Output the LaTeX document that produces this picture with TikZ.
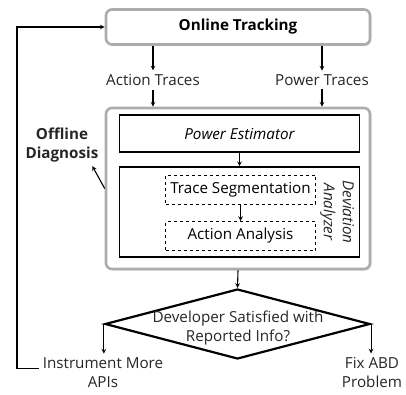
\documentclass[tikz,border=0pt]{standalone}
\usepackage{fontspec}
\setmainfont{Open Sans}
\usetikzlibrary{shapes.geometric,shadows}
\newcommand{\diagsize}{\fontsize{15.2}{19}\selectfont}
\begin{document}
\begin{tikzpicture}[>=stealth, x=1pt, y=-1pt, font=\diagsize, line width=1.1pt]
  \tikzset{panel/.style={draw=gray!65, line width=2.6pt, rounded corners=6pt, fill=white, drop shadow={opacity=0.25, shadow xshift=1.5pt, shadow yshift=-1.5pt}},
    stage/.style={draw, line width=1.6pt, minimum width=240pt},
    part/.style={draw, dashed, line width=1pt, minimum width=150pt, minimum height=29pt, inner sep=1pt},
    txt/.style={align=center, text=black!85}}
  \useasboundingbox (0,0) rectangle (406,394);
  \node[panel, minimum width=264pt, minimum height=35pt, font=\diagsize\bfseries] (online) at (238,27) {Online Tracking};
  \node[txt] (act) at (153,80) {Action Traces};
  \node[txt] (pow) at (322,80) {Power Traces};
  \node[panel, minimum width=264pt, minimum height=161pt] (offline) at (238,188.5) {};
  \node[stage, minimum height=37pt, font=\diagsize\itshape] (est) at (239.5,133.5) {Power Estimator};
  \node[stage, minimum height=90pt] (dev) at (239.5,212) {};
  \node[part] (seg) at (240.5,189.5) {Trace Segmentation};
  \node[part] (ana) at (240.5,236) {Action Analysis};
  \node[txt, rotate=-90, font=\diagsize\itshape, inner sep=0pt] (devname) at (337,212) {Deviation\\Analyzer};
  \node[txt, font=\diagsize\bfseries] (diag) at (62,145) {Offline\\Diagnosis};
  \node[diamond, draw, line width=2.2pt, minimum width=265pt, minimum height=70pt, inner sep=0pt] (check) at (237.5,324) {};
  \node[txt] (question) at (238,328) {Developer Satisfied with\\Reported Info?};
  \node[txt] (more) at (103,372.5) {Instrument More\\APIs};
  \node[txt] (fix) at (372,372.5) {Fix ABD\\Problem};
  \coordinate (back) at (17,0);
  \draw[->] (online.south -| act) -- (act.north);
  \draw[->] (online.south -| pow) -- (pow.north);
  \draw[->] (act.south) -- (offline.north -| act);
  \draw[->] (pow.south) -- (offline.north -| pow);
  \draw[->] (est.south) -- (dev.north);
  \draw[->] (seg.south) -- (ana.north);
  \draw[->] (offline.west) -- ([shift={(-10pt,0pt)}]diag.south east);
  \draw[->] (offline.south) -- (check.north);
  \draw[->] (check.west) -- (check.west |- more.north);
  \draw[->] (check.east) -- (check.east |- fix.north);
  \draw[->] ([yshift=4pt]more.west) -- ([yshift=4pt]more.west -| back) -- (back |- online.west) -- (online.west);
\end{tikzpicture}
\end{document}
